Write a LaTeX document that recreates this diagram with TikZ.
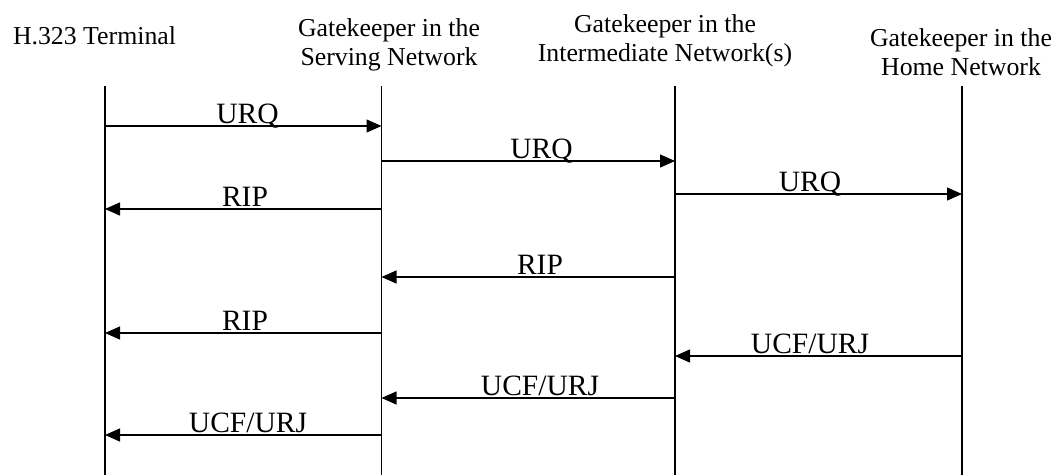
\documentclass[tikz,border=0pt]{standalone}
\usepackage{fontspec}
\setmainfont{Liberation Serif}
\usetikzlibrary{arrows.meta,positioning}

\begin{document}
\begin{tikzpicture}[x=1pt,y=1pt,
  lifeline/.style={line width=1.2pt},
  msg/.style={line width=1.2pt,-{Triangle[length=15pt,width=13pt]}},
  hdr/.style={font=\fontsize{25.8}{29}\selectfont,align=center,inner sep=0pt},
  msglabel/.style={font=\fontsize{29.5}{32}\selectfont,inner sep=0pt,anchor=base}]
  \useasboundingbox (0,0) rectangle (1057,-475);
  % headers
  \node[hdr,anchor=base] (term) at (94.5,-44) {H.323 Terminal};
  \node[hdr,anchor=north] (serv) at (389,-18) {Gatekeeper in the\\Serving Network};
  \node[hdr,anchor=north] (inter) at (665,-14.5) {Gatekeeper in the\\Intermediate Network(s)};
  \node[hdr,anchor=north] (home) at (961,-28.5) {Gatekeeper in the\\Home Network};
  % lifelines
  \foreach \n/\x in {term/105,serv/381.5,inter/675,home/962} {
    \coordinate (\n-top) at (\x,-86);
    \coordinate (\n-bot) at (\x,-475);
    \draw[lifeline] (\n-top) -- (\n-bot);
  }
  % messages
  \foreach \a/\b/\y/\lx/\t in {term/serv/126/247.5/URQ, serv/inter/161/541.5/URQ,
      inter/home/194/810/URQ, serv/term/209/245/RIP, inter/serv/277/540/RIP,
      serv/term/333/245/RIP, home/inter/356/810/{UCF/URJ},
      inter/serv/398/540/{UCF/URJ}, serv/term/435/248/{UCF/URJ}} {
    \draw[msg] (\a-top |- 0,-\y) -- (\b-top |- 0,-\y);
    \node[msglabel] (lbl\y) at (\lx,{-\y+2.5}) {\t};
  }
\end{tikzpicture}
\end{document}
